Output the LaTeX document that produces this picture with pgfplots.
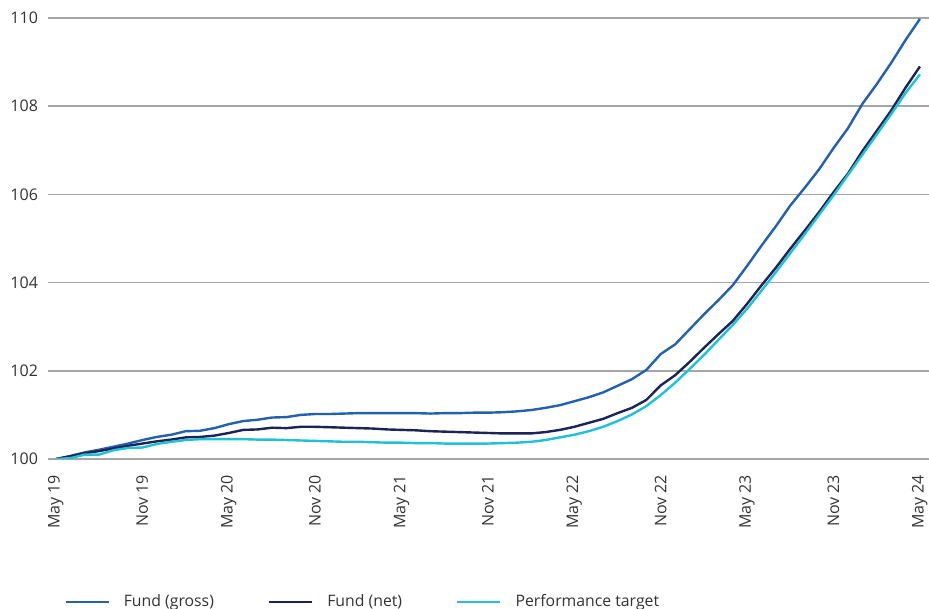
\documentclass[border=0pt]{standalone}
\usepackage{fontspec}
\setmainfont{Open Sans}
\usepackage{pgfplots}
\usepackage{pgfplotstable}
\pgfplotsset{compat=1.18}

\definecolor{gross}{HTML}{2360B0}
\definecolor{net}{HTML}{1B2456}
\definecolor{target}{HTML}{22C0D6}
\definecolor{gridc}{HTML}{A6A6A6}
\definecolor{txt}{HTML}{333333}

% month index (0 = May 19), fund gross, fund net, performance target
\pgfplotstableread{
m gross net target
0 100.00 100.00 100.00
1 100.07 100.06 100.02
2 100.15 100.13 100.10
3 100.21 100.18 100.10
4 100.28 100.24 100.20
5 100.35 100.30 100.25
6 100.43 100.35 100.26
7 100.50 100.40 100.34
8 100.55 100.44 100.39
9 100.63 100.49 100.43
10 100.64 100.50 100.45
11 100.70 100.53 100.45
12 100.79 100.59 100.45
13 100.86 100.66 100.45
14 100.89 100.67 100.44
15 100.94 100.71 100.44
16 100.95 100.70 100.43
17 101.00 100.73 100.42
18 101.02 100.73 100.41
19 101.02 100.72 100.40
20 101.03 100.71 100.39
21 101.04 100.70 100.39
22 101.04 100.69 100.38
23 101.04 100.67 100.37
24 101.04 100.66 100.37
25 101.04 100.65 100.36
26 101.03 100.63 100.36
27 101.04 100.62 100.35
28 101.04 100.61 100.35
29 101.05 100.60 100.35
30 101.05 100.59 100.35
31 101.06 100.58 100.36
32 101.08 100.58 100.37
33 101.11 100.58 100.39
34 101.16 100.61 100.43
35 101.22 100.66 100.49
36 101.31 100.73 100.55
37 101.40 100.82 100.63
38 101.51 100.91 100.73
39 101.66 101.04 100.86
40 101.81 101.16 101.01
41 102.02 101.34 101.20
42 102.38 101.67 101.45
43 102.60 101.90 101.73
44 102.94 102.20 102.04
45 103.28 102.52 102.36
46 103.60 102.83 102.70
47 103.94 103.13 103.04
48 104.38 103.52 103.41
49 104.84 103.94 103.82
50 105.28 104.34 104.24
51 105.75 104.77 104.67
52 106.15 105.18 105.10
53 106.57 105.60 105.54
54 107.05 106.05 105.98
55 107.50 106.47 106.44
56 108.05 106.98 106.90
57 108.50 107.44 107.36
58 108.98 107.90 107.82
59 109.50 108.42 108.30
60 109.98 108.90 108.72
}\perf

\begin{document}
\begin{tikzpicture}
\begin{axis}[
  name=ax,
  scale only axis,
  width=440.5pt, height=220.5pt,
  xmin=-0.56, xmax=60.63,
  ymin=100, ymax=110,
  axis line style={draw=none},
  ytick={100,102,...,110},
  xtick={0,6,...,60},
  xticklabels={May 19,Nov 19,May 20,Nov 20,May 21,Nov 21,May 22,Nov 22,May 23,Nov 23,May 24},
  major tick length=0pt,
  ymajorgrids=true,
  grid style={gridc, line width=0.75pt},
  tick label style={font=\fontsize{8}{10}\selectfont, text=txt},
  /pgf/number format/assume math mode=true,
  yticklabel style={xshift=-1.5pt},
  % shifts are in the rotated frame: xshift<0 moves down, yshift>0 moves left
  xticklabel style={rotate=90, anchor=east, xshift=-4.5pt, yshift=0.1pt, inner ysep=1pt},
  legend columns=3,
  legend cell align=left,
  legend style={
    at={(0.0182,-0.3243)}, anchor=west,
    draw=none, inner xsep=0pt, inner ysep=0pt,
    font=\fontsize{7.9}{10}\selectfont, text=txt,
    /tikz/every odd column/.append style={column sep=5pt},
    /tikz/every even column/.append style={column sep=25pt},
  },
  legend image code/.code={\draw[#1] (0pt,0pt) -- (21.5pt,0pt);},
  every axis plot/.append style={line width=1.2pt, line join=round},
]
\addplot[gross] table[x=m, y=gross] {\perf};
\addlegendentry{Fund (gross)}
\addplot[net] table[x=m, y=net] {\perf};
\addlegendentry{Fund (net)}
\addplot[target] table[x=m, y=target] {\perf};
\addlegendentry{Performance target}
\end{axis}
\pgfresetboundingbox
\path ([xshift=-24pt,yshift=-75pt]ax.south west) rectangle ([yshift=9pt]ax.north east);
\end{tikzpicture}
\end{document}
